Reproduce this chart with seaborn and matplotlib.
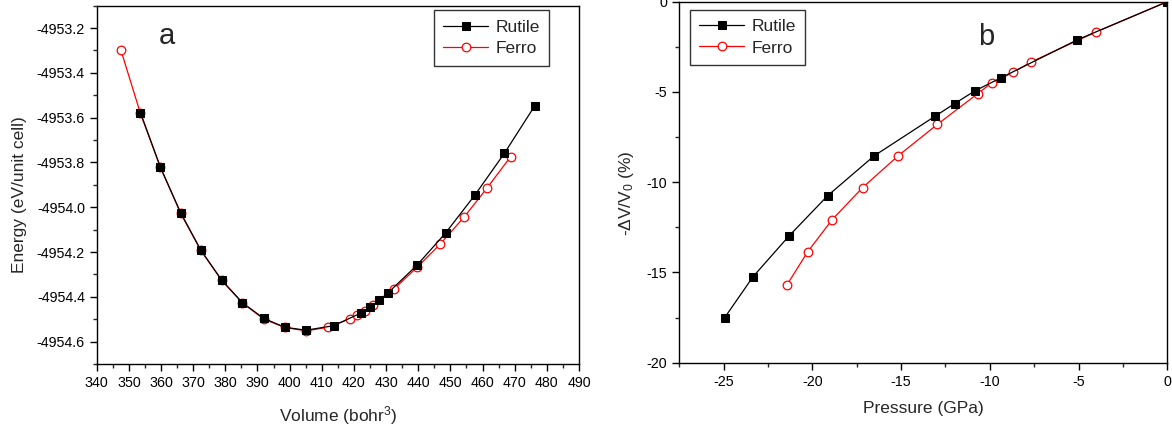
import numpy as np
import pandas as pd
import matplotlib
matplotlib.use("Agg")
import matplotlib.pyplot as plt
from matplotlib.ticker import MultipleLocator, FormatStrFormatter
import seaborn as sns

# ---- Panel a data ----
vol_rutile = [353.6, 359.8, 366.1, 372.4, 378.9, 385.3, 391.9, 398.5, 405.1, 413.7,
              422.1, 425.1, 427.9, 430.7, 439.6, 448.5, 457.6, 466.8, 476.2]
en_rutile = [-4953.577, -4953.821, -4954.024, -4954.192, -4954.326, -4954.426, -4954.496,
             -4954.536, -4954.549, -4954.529, -4954.473, -4954.444, -4954.415, -4954.381,
             -4954.259, -4954.115, -4953.946, -4953.759, -4953.548]
vol_ferro = [347.5, 353.6, 359.8, 366.1, 372.4, 378.9, 385.3, 391.9, 398.5, 405.1, 411.9,
             418.8, 421.1, 423.3, 425.8, 432.6, 439.6, 446.8, 454.2, 461.3, 468.7]
en_ferro = [-4953.297, -4953.581, -4953.821, -4954.027, -4954.193, -4954.327, -4954.427,
            -4954.499, -4954.537, -4954.552, -4954.536, -4954.498, -4954.483, -4954.462,
            -4954.438, -4954.363, -4954.269, -4954.165, -4954.045, -4953.916, -4953.775]

# ---- Panel b data ----
p_rutile = [-24.94, -23.34, -21.30, -19.13, -16.52, -13.11, -11.98, -10.84, -9.36, -5.07, 0.0]
dv_rutile = [-17.50, -15.23, -12.96, -10.74, -8.54, -6.36, -5.64, -4.94, -4.21, -2.11, 0.0]
p_ferro = [-21.42, -20.27, -18.88, -17.17, -15.17, -12.96, -10.69, -9.89, -8.69, -7.70, -4.02, 0.0]
dv_ferro = [-15.67, -13.86, -12.07, -10.30, -8.54, -6.80, -5.10, -4.49, -3.92, -3.35, -1.68, 0.0]

series_names = ["Rutile", "Ferro"]

sns.set_theme(style="ticks")
plt.rcParams["font.family"] = ["Liberation Sans", "DejaVu Sans"]
plt.rcParams["axes.unicode_minus"] = False
plt.rcParams["mathtext.fontset"] = "custom"
plt.rcParams["mathtext.rm"] = "Liberation Sans"
plt.rcParams["mathtext.it"] = "Liberation Sans:italic"

W, H = 1172, 428
fig = plt.figure(figsize=(W / 100, H / 100), dpi=100)
fig.patch.set_facecolor("white")

def px_axes(l, r, t, b):
    return fig.add_axes([l / W, 1 - b / H, (r - l) / W, (b - t) / H])

axa = px_axes(96.7, 579.0, 5.7, 364.0)
axb = px_axes(679.3, 1167.3, 1.7, 362.7)

rut_kw = dict(color="black", marker="s", markersize=5.6, markerfacecolor="black",
              markeredgecolor="black", linewidth=0.9, zorder=4)
fer_kw = dict(color="red", marker="o", markersize=6.2, markerfacecolor="white",
              markeredgecolor="red", markeredgewidth=0.9, linewidth=0.9, zorder=3)

def draw(ax, x1, y1, x2, y2):
    df1 = pd.DataFrame({"x": x1, "y": y1})
    df2 = pd.DataFrame({"x": x2, "y": y2})
    sns.lineplot(data=df1, x="x", y="y", ax=ax, sort=False, estimator=None,
                 label=series_names[0], **rut_kw)
    sns.lineplot(data=df2, x="x", y="y", ax=ax, sort=False, estimator=None,
                 label=series_names[1], **fer_kw)
    ax.set_facecolor("white")
    for s in ax.spines.values():
        s.set_visible(True)
        s.set_color("black")
        s.set_linewidth(1.0)
    ax.tick_params(which="major", direction="out", length=5, width=1, labelsize=10.3,
                   colors="black", top=False, right=False)
    ax.tick_params(which="minor", direction="out", length=3, width=1,
                   top=False, right=False)

def style_legend(ax, loc, anchor):
    leg = ax.legend(loc=loc, bbox_to_anchor=anchor, borderaxespad=0,
                    fontsize=12.5, frameon=True, fancybox=False, handlelength=2.6,
                    handletextpad=0.4, labelspacing=0.35, borderpad=0.55)
    leg.get_frame().set_edgecolor("black")
    leg.get_frame().set_linewidth(1.0)
    return leg

draw(axa, vol_rutile, en_rutile, vol_ferro, en_ferro)
draw(axb, p_rutile, dv_rutile, p_ferro, dv_ferro)

# Panel a axes
axa.set_xlim(340, 490)
axa.set_ylim(-4954.7, -4953.1)
axa.xaxis.set_major_locator(MultipleLocator(10))
axa.xaxis.set_minor_locator(MultipleLocator(5))
axa.yaxis.set_major_locator(MultipleLocator(0.2))
axa.yaxis.set_minor_locator(MultipleLocator(0.1))
axa.yaxis.set_major_formatter(FormatStrFormatter("%.1f"))
axa.set_xlabel("Volume (bohr$^3$)", fontsize=12.5)
axa.set_ylabel("Energy (eV/unit cell)", fontsize=12.5)
axa.xaxis.set_label_coords(0.5, -0.112)
axa.yaxis.set_label_coords(-0.1445, 0.472)
axa.text((166.7 - 96.7) / 482.3, (364 - 36.4) / 358.3, "a", transform=axa.transAxes,
         fontsize=21, ha="center", va="center")
style_legend(axa, "upper right", (0.938, 0.987))

# Panel b axes
axb.set_xlim(-27.5, 0)
axb.set_ylim(-20, 0)
axb.xaxis.set_major_locator(MultipleLocator(5))
axb.xaxis.set_minor_locator(MultipleLocator(2.5))
axb.yaxis.set_major_locator(MultipleLocator(5))
axb.yaxis.set_minor_locator(MultipleLocator(2.5))
axb.xaxis.set_major_formatter(FormatStrFormatter("%d"))
axb.yaxis.set_major_formatter(FormatStrFormatter("%d"))
axb.set_xlabel("Pressure (GPa)", fontsize=12.5)
axb.set_ylabel("-\u0394V/V$_0$ (%)", fontsize=12.5)
axb.xaxis.set_label_coords(0.5, -0.105)
axb.yaxis.set_label_coords(-0.089, 0.47)
axb.text((986 - 679.3) / 488, (362.7 - 36.7) / 361, "b", transform=axb.transAxes,
         fontsize=21, ha="center", va="center")
style_legend(axb, "upper left", (0.0213, 0.978))

fig.savefig("out.png", dpi=100, facecolor="white")
